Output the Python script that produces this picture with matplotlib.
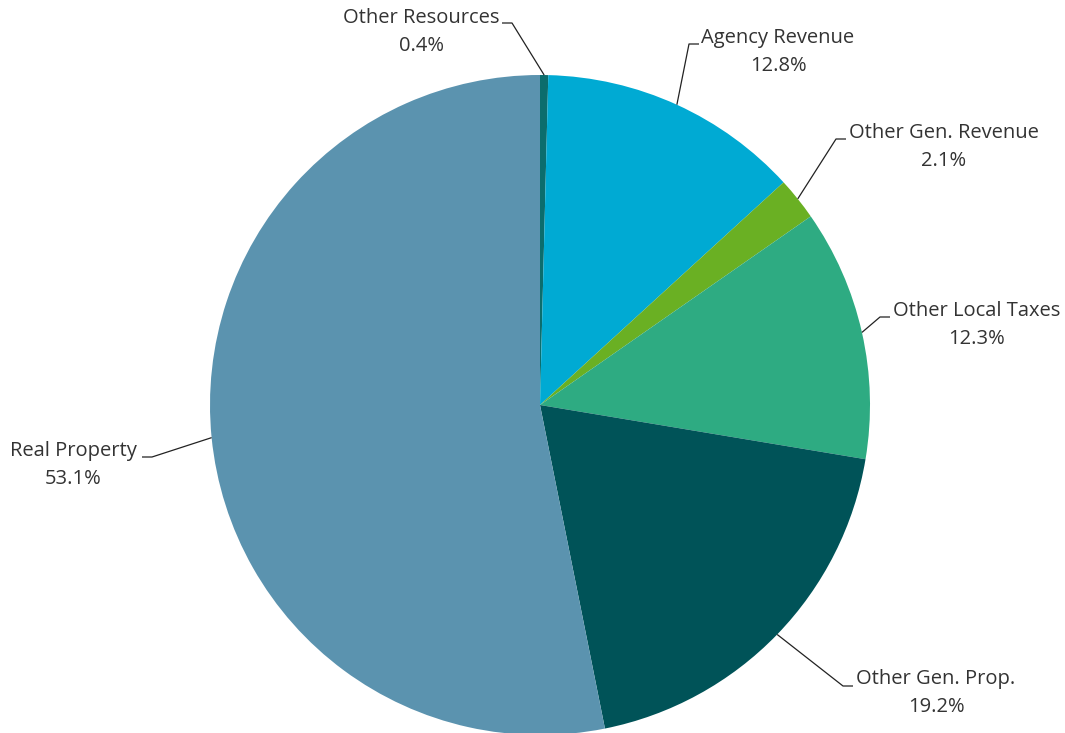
import numpy as np
import matplotlib.pyplot as plt

labels = ["Other Resources", "Agency Revenue", "Other Gen. Revenue",
          "Other Local Taxes", "Other Gen. Prop.", "Real Property"]
shares = [0.4, 12.8, 2.1, 12.3, 19.2, 53.1]
colors = ["#0c6d6d", "#00aad3", "#6ab023", "#2eab82", "#005358", "#5b93af"]

# label layout in pixel space (text centre x, first line y, elbow x, elbow y, side)
label_pos = {
    "Agency Revenue": (778, 38, 689, 44, "r"),
    "Other Gen. Revenue": (944, 133, 836, 139, "r"),
    "Other Local Taxes": (977, 311, 880, 317, "r"),
    "Other Gen. Prop.": (936, 679, 843, 686, "r"),
    "Real Property": (73, 451, 152, 457, "l"),
    "Other Resources": (421, 18, 512, 23, "l"),
}

W, H = 1065, 733
cx, cy, R = 540, 405, 330

plt.rcParams['font.family'] = ['Open Sans', 'DejaVu Sans']
fig = plt.figure(figsize=(W / 100, H / 100), dpi=100)
ax = fig.add_axes([0, 0, 1, 1])

wedges, _ = ax.pie(shares, colors=colors, startangle=90, counterclock=False,
                   center=(cx, H - cy), radius=R, frame=True,
                   wedgeprops=dict(linewidth=0))

for w, lab, val in zip(wedges, labels, shares):
    ang = np.deg2rad((w.theta1 + w.theta2) / 2)
    ex = cx + R * np.cos(ang)
    ey = H - cy + R * np.sin(ang)
    tx, ty, kx, ky, side = label_pos[lab]
    hx = kx + 10 if side == "r" else kx - 10
    ax.plot([ex, kx, hx], [ey, H - ky, H - ky], color="#222222", lw=0.9,
            solid_capstyle="butt", zorder=3)
    ax.text(tx, H - ty, lab, ha="center", va="center", fontsize=14.5, color="#333333")
    ax.text(tx, H - ty - 28, f"{val}%", ha="center", va="center", fontsize=14.5,
            color="#333333")

ax.set_xlim(0, W)
ax.set_ylim(0, H)
ax.set_aspect("equal")
ax.axis("off")
fig.savefig("out.png", dpi=100)
